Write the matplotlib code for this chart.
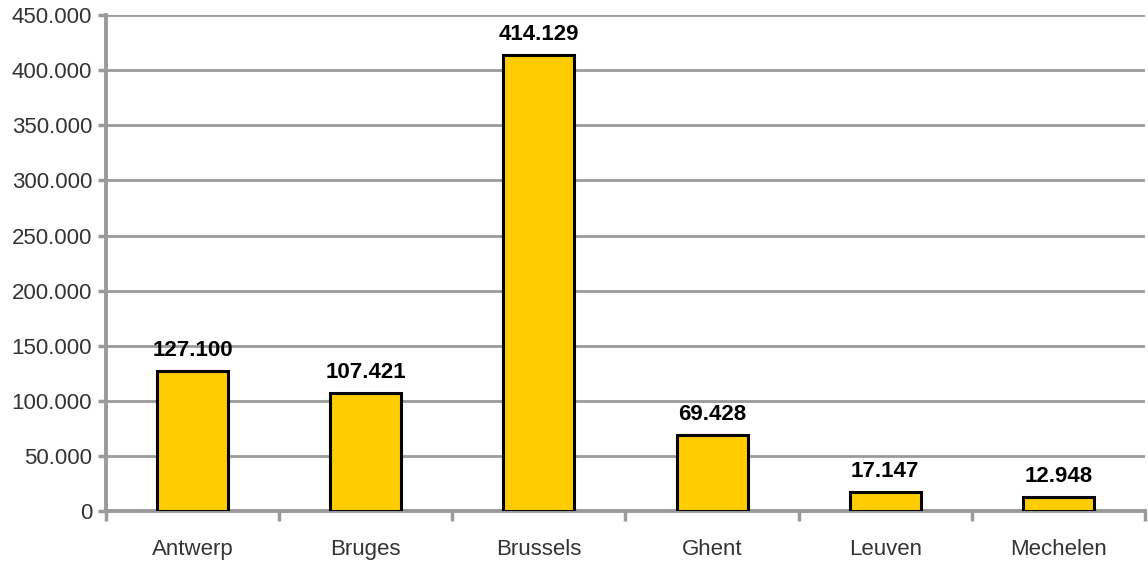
import matplotlib.pyplot as plt
import numpy as np

plt.rcParams['font.family'] = ['Liberation Sans', 'DejaVu Sans']

# Cities and values
cities = ["Antwerp", "Bruges", "Brussels", "Ghent", "Leuven", "Mechelen"]
values = [127100, 107421, 414129, 69428, 17147, 12948]
y_ticks = [0, 50000, 100000, 150000, 200000, 250000, 300000, 350000, 400000, 450000]
y_labels = ["0", "50.000", "100.000", "150.000", "200.000", "250.000",
            "300.000", "350.000", "400.000", "450.000"]

grey = "#9a9a9a"

fig = plt.figure(figsize=(11.48, 5.61), dpi=100)
ax = fig.add_axes([0.0923, 0.089, 0.905, 0.884])

x = np.arange(len(cities))
bars = ax.bar(x, values, width=0.41, color="#FFCC00", edgecolor="black",
              linewidth=2.2, zorder=3)

# Value labels above the bars
for bar, v in zip(bars, values):
    ax.text(bar.get_x() + bar.get_width() / 2, v + 9000,
            f"{v:,}".replace(",", "."), ha="center", va="bottom",
            fontsize=16, fontweight="bold", color="black")

ax.set_xlim(-0.5, len(cities) - 0.5)
ax.set_ylim(0, 450000)
ax.set_yticks(y_ticks)
ax.set_yticklabels(y_labels, fontsize=16, color="#333333")
ax.set_xticks(x)
ax.set_xticklabels(cities, fontsize=16, color="#333333")
ax.set_xticks(np.arange(-0.5, len(cities)), minor=True)

ax.grid(axis="y", color=grey, linewidth=2, zorder=0)
ax.tick_params(axis="x", which="major", length=0, pad=20)
ax.tick_params(axis="x", which="minor", length=7, width=2.5, color=grey)
ax.tick_params(axis="y", length=6, width=2.5, color=grey, pad=4)

for side in ["top", "right"]:
    ax.spines[side].set_visible(False)
for side in ["left", "bottom"]:
    ax.spines[side].set_color(grey)
    ax.spines[side].set_linewidth(2.8)

fig.savefig("out.png", dpi=100)
